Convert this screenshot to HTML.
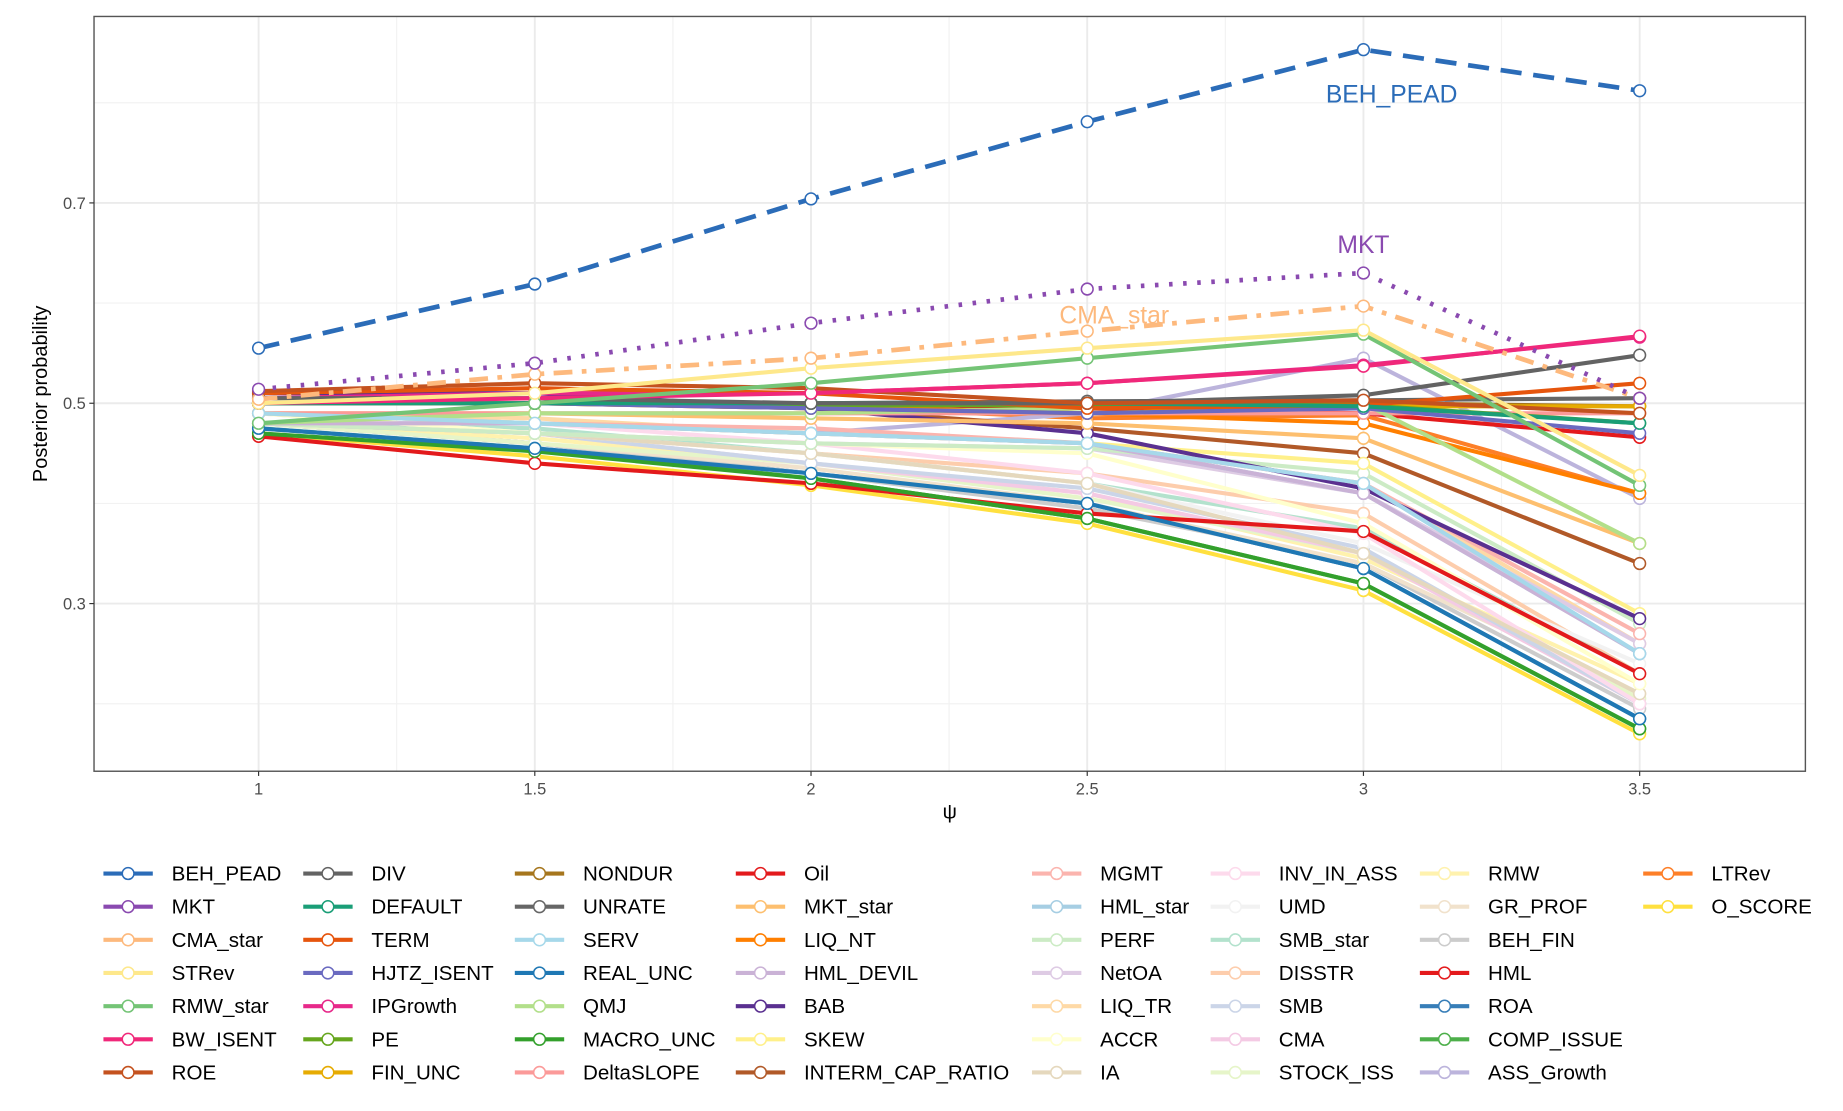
<!DOCTYPE html>
<html><head><meta charset="utf-8"><style>
html,body{margin:0;padding:0;background:#fff;}
svg{display:block;font-family:"Liberation Sans",sans-serif;}
</style></head><body>
<svg id="chart" width="1843" height="1111" viewBox="0 0 1568 945" preserveAspectRatio="none" xmlns="http://www.w3.org/2000/svg">
<g id="grid"></g>
<g id="series"></g>
<rect x="80" y="14" width="1456" height="642" fill="none" stroke="#555" stroke-width="1.2"/>
<g id="axes"></g>
<text x="808" y="696" font-size="17" text-anchor="middle">ψ</text>
<text transform="translate(40,335) rotate(-90)" font-size="17" text-anchor="middle">Posterior probability</text>
<text x="1184" y="87" font-size="21" fill="#2b6cb8" text-anchor="middle">BEH_PEAD</text>
<text x="1160" y="215" font-size="21" fill="#8a4ab0" text-anchor="middle">MKT</text>
<text x="948" y="275" font-size="21" fill="#fdb97d" text-anchor="middle">CMA_star</text>
<g id="legend"></g>
</svg>
<script>
const xValues=[1,1.5,2,2.5,3,3.5];
const xTicks=[1,1.5,2,2.5,3,3.5];
const xTickLabels=["1","1.5","2","2.5","3","3.5"];
const yTicks=[0.3,0.5,0.7];
const yTickLabels=["0.3","0.5","0.7"];
const yMinor=[0.2,0.4,0.6,0.8];
const seriesNames=["BEH_PEAD","MKT","CMA_star","STRev","RMW_star","BW_ISENT","ROE","DIV","DEFAULT","TERM","HJTZ_ISENT","IPGrowth","PE","FIN_UNC","NONDUR","UNRATE","SERV","REAL_UNC","QMJ","MACRO_UNC","DeltaSLOPE","Oil","MKT_star","LIQ_NT","HML_DEVIL","BAB","SKEW","INTERM_CAP_RATIO","MGMT","HML_star","PERF","NetOA","LIQ_TR","ACCR","IA","INV_IN_ASS","UMD","SMB_star","DISSTR","SMB","CMA","STOCK_ISS","RMW","GR_PROF","BEH_FIN","HML","ROA","COMP_ISSUE","ASS_Growth","LTRev","O_SCORE"];
const seriesColors=["#2b6cb8","#8a4ab0","#fdb97d","#fee88b","#74c476","#f0287a","#c4521f","#636363","#1a9e77","#e6550d","#6a6ac0","#e7298a","#66a61e","#e6ab02","#a6761d","#666666","#a6d8ea","#1f78b4","#b2df8a","#33a02c","#fb9a99","#e31a1c","#fdbf6f","#ff7f00","#cab2d6","#5a3090","#fff08a","#b15928","#fbb4ae","#a6cee3","#ccebc5","#decbe4","#fed9a6","#ffffcc","#e5d8bd","#fddaec","#f2f2f2","#b3e2cd","#fdcdac","#cbd5e8","#f4cae4","#e6f5c9","#fff2ae","#f1e2cc","#cccccc","#e41a1c","#377eb8","#4daf4a","#bcb4dc","#fd7f28","#ffe03f"];
const BEH_PEAD=[0.555,0.619,0.704,0.781,0.853,0.812];
const MKT=[0.514,0.540,0.580,0.614,0.630,0.505];
const CMA_star=[0.504,0.529,0.545,0.572,0.597,0.505];
const STRev=[0.50,0.51,0.535,0.555,0.573,0.428];
const RMW_star=[0.48,0.50,0.52,0.545,0.569,0.418];
const BW_ISENT=[0.50,0.505,0.51,0.52,0.537,0.567];
const ROE=[0.512,0.52,0.515,0.50,0.503,0.49];
const DIV=[0.505,0.505,0.50,0.50,0.508,0.548];
const DEFAULT=[0.50,0.50,0.50,0.50,0.497,0.48];
const TERM=[0.51,0.515,0.51,0.495,0.498,0.52];
const HJTZ_ISENT=[0.50,0.50,0.495,0.49,0.495,0.47];
const IPGrowth=[0.505,0.51,0.51,0.52,0.538,0.566];
const PE=[0.50,0.50,0.498,0.498,0.498,0.48];
const FIN_UNC=[0.50,0.50,0.495,0.49,0.497,0.497];
const NONDUR=[0.50,0.50,0.50,0.497,0.50,0.497];
const UNRATE=[0.50,0.50,0.50,0.502,0.503,0.505];
const SERV=[0.49,0.48,0.47,0.46,0.42,0.25];
const REAL_UNC=[0.475,0.455,0.43,0.40,0.335,0.185];
const QMJ=[0.48,0.49,0.49,0.495,0.50,0.36];
const MACRO_UNC=[0.47,0.452,0.425,0.385,0.32,0.175];
const DeltaSLOPE=[0.49,0.49,0.49,0.49,0.49,0.49];
const Oil=[0.467,0.44,0.42,0.39,0.372,0.23];
const MKT_star=[0.49,0.49,0.485,0.48,0.465,0.36];
const LIQ_NT=[0.50,0.50,0.497,0.49,0.48,0.41];
const HML_DEVIL=[0.48,0.48,0.47,0.46,0.41,0.25];
const BAB=[0.51,0.51,0.495,0.47,0.415,0.285];
const SKEW=[0.49,0.48,0.47,0.46,0.44,0.29];
const INTERM_CAP_RATIO=[0.50,0.50,0.495,0.475,0.45,0.34];
const MGMT=[0.49,0.48,0.475,0.46,0.42,0.27];
const HML_star=[0.49,0.48,0.47,0.46,0.41,0.25];
const PERF=[0.48,0.47,0.46,0.455,0.43,0.28];
const NetOA=[0.48,0.47,0.46,0.455,0.41,0.26];
const LIQ_TR=[0.49,0.485,0.47,0.46,0.42,0.26];
const ACCR=[0.49,0.47,0.46,0.45,0.38,0.22];
const IA=[0.48,0.47,0.45,0.42,0.35,0.21];
const INV_IN_ASS=[0.49,0.48,0.46,0.43,0.37,0.20];
const UMD=[0.49,0.47,0.45,0.42,0.36,0.24];
const SMB_star=[0.48,0.475,0.45,0.42,0.375,0.23];
const DISSTR=[0.48,0.47,0.45,0.43,0.39,0.23];
const SMB=[0.48,0.47,0.44,0.415,0.355,0.20];
const CMA=[0.49,0.47,0.44,0.41,0.35,0.20];
const STOCK_ISS=[0.48,0.46,0.44,0.405,0.35,0.205];
const RMW=[0.48,0.465,0.44,0.41,0.345,0.22];
const GR_PROF=[0.48,0.46,0.435,0.40,0.34,0.21];
const BEH_FIN=[0.48,0.46,0.43,0.395,0.34,0.195];
const HML=[0.50,0.50,0.50,0.495,0.49,0.466];
const ROA=[0.48,0.46,0.43,0.40,0.335,0.185];
const COMP_ISSUE=[0.475,0.455,0.425,0.385,0.32,0.175];
const ASS_Growth=[0.48,0.48,0.47,0.49,0.545,0.405];
const LTRev=[0.50,0.50,0.497,0.485,0.488,0.41];
const O_SCORE=[0.47,0.447,0.418,0.38,0.313,0.17];
const seriesValues=[BEH_PEAD,MKT,CMA_star,STRev,RMW_star,BW_ISENT,ROE,DIV,DEFAULT,TERM,HJTZ_ISENT,IPGrowth,PE,FIN_UNC,NONDUR,UNRATE,SERV,REAL_UNC,QMJ,MACRO_UNC,DeltaSLOPE,Oil,MKT_star,LIQ_NT,HML_DEVIL,BAB,SKEW,INTERM_CAP_RATIO,MGMT,HML_star,PERF,NetOA,LIQ_TR,ACCR,IA,INV_IN_ASS,UMD,SMB_star,DISSTR,SMB,CMA,STOCK_ISS,RMW,GR_PROF,BEH_FIN,HML,ROA,COMP_ISSUE,ASS_Growth,LTRev,O_SCORE];

const NS="http://www.w3.org/2000/svg";
const PL=80,PR=1536,PT=14,PB=656;
function xs(v){return 220+(v-1)*470;}
function ys(v){return 343-(v-0.5)*852;}
function mk(tag,attrs,parent){const e=document.createElementNS(NS,tag);for(const k in attrs)e.setAttribute(k,attrs[k]);parent.appendChild(e);return e;}

const grid=document.getElementById('grid');
yMinor.forEach(v=>{const l=mk('line',{x1:PL,x2:PR,y1:ys(v),y2:ys(v),stroke:'#f2f2f2','stroke-width':1},grid);

});
xTicks.slice(0,-1).forEach(v=>{const l=mk('line',{x1:xs(v+0.25),x2:xs(v+0.25),y1:PT,y2:PB,stroke:'#f2f2f2','stroke-width':1},grid);

});
yTicks.forEach(v=>{const l=mk('line',{x1:PL,x2:PR,y1:ys(v),y2:ys(v),stroke:'#ebebeb','stroke-width':1.6},grid);

});
xTicks.forEach(v=>{const l=mk('line',{x1:xs(v),x2:xs(v),y1:PT,y2:PB,stroke:'#ebebeb','stroke-width':1.6},grid);

});

const axes=document.getElementById('axes');
yTicks.forEach((v,i)=>{
const t=mk('line',{x1:PL-4,x2:PL,y1:ys(v),y2:ys(v),stroke:'#333','stroke-width':1},axes);


const tx=mk('text',{x:PL-7,y:ys(v)+5,'font-size':14,'text-anchor':'end',fill:'#4d4d4d'},axes);
tx.textContent=yTickLabels[i];

});
xTicks.forEach((v,i)=>{
const t=mk('line',{x1:xs(v),x2:xs(v),y1:PB,y2:PB+4,stroke:'#333','stroke-width':1},axes);


const tx=mk('text',{x:xs(v),y:PB+20,'font-size':14,'text-anchor':'middle',fill:'#4d4d4d'},axes);
tx.textContent=xTickLabels[i];

});

const dashes={0:'18 10',1:'3 9',2:'16 8 4 8'};
const sg=document.getElementById('series');
for(let i=seriesNames.length-1;i>=0;i--){
const g=mk('g',{},sg);


const pts=seriesValues[i].map((v,j)=>xs(xValues[j])+','+ys(v)).join(' ');
const pl=mk('polyline',{points:pts,fill:'none',stroke:seriesColors[i],'stroke-width':i<3?4:3.5,'stroke-linejoin':'round'},g);
if(dashes[i]!==undefined)pl.setAttribute('stroke-dasharray',dashes[i]);


seriesValues[i].forEach((v,j)=>{
const c=mk('circle',{cx:xs(xValues[j]),cy:ys(v),r:5,fill:'#fff',stroke:seriesColors[i],'stroke-width':1.3},g);

});
}

const lg=document.getElementById('legend');
const colX=[88,258,438,626,878,1030,1208,1398];
seriesNames.forEach((n,i)=>{
const col=Math.floor(i/7),row=i%7;
const x=colX[col],y=743+row*28.2;
const g=mk('g',{},lg);


mk('line',{x1:x,x2:x+42,y1:y,y2:y,stroke:seriesColors[i],'stroke-width':3.5},g);
mk('circle',{cx:x+21,cy:y,r:5,fill:'#fff',stroke:seriesColors[i],'stroke-width':1.3},g);
const t=mk('text',{x:x+58,y:y+6,'font-size':17.5,fill:'#000'},g);
t.textContent=n;
});
</script>
</body></html>
